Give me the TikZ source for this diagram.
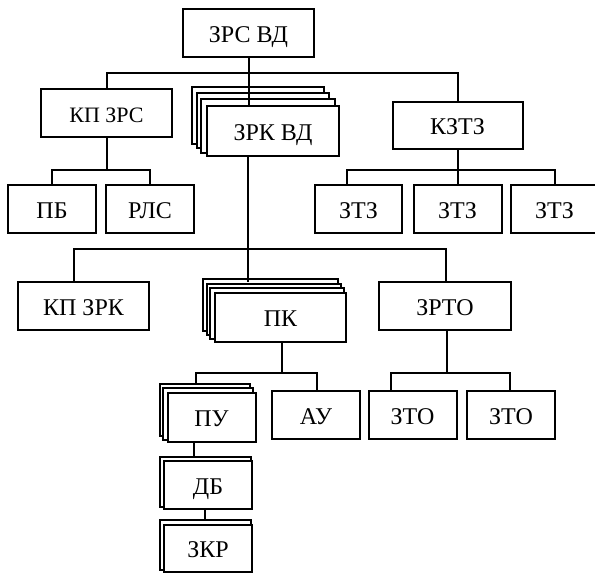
\documentclass[tikz,border=0pt]{standalone}
\usepackage{fontspec}
\setmainfont{Liberation Serif}
\usetikzlibrary{backgrounds}

\tikzset{
  unit/.style = {draw, fill = white, line width = 1pt, minimum width = 65.5pt, minimum height = 24pt,
                 inner sep = 0pt, text height = 9pt, text depth = 0pt, font = \fontsize{12}{14}\selectfont},
  small/.style = {unit, minimum width = 44pt},
  layer/.style = {draw, fill = white, line width = 1pt},
  link/.style = {line width = 1pt}
}

\begin{document}
\begin{tikzpicture}[x = 0.5pt, y = -0.5pt]
  \useasboundingbox (0,0) rectangle (595,573);

  % top level
  \node[unit] (zrs) at (248.5,33) {ЗРС ВД};
  \node[unit, font = \fontsize{11}{13}\selectfont] (kpzrs) at (106.5,113) {КП ЗРС};
  \node[unit, minimum width = 66pt, minimum height = 25pt] (zrk) at (273,131) {ЗРК ВД};
  \node[unit, minimum width = 65pt, minimum height = 23.5pt] (kztz) at (457.5,125.5) {КЗТЗ};

  \node[small] (pb) at (52,209) {ПБ};
  \node[small] (rls) at (150,209) {РЛС};
  \node[small, minimum width = 43.5pt] (ztz1) at (358.5,209) {ЗТЗ};
  \node[small] (ztz2) at (457.5,209) {ЗТЗ};
  \node[small] (ztz3) at (554.5,209) {ЗТЗ};

  % second level
  \node[unit] (kpzrk) at (83.5,306) {КП ЗРК};
  \node[unit, minimum height = 24.5pt] (pk) at (280.5,317.5) {ПК};
  \node[unit, minimum width = 66pt] (zrto) at (445,306) {ЗРТО};

  \node[small, minimum height = 24.5pt] (pu) at (211.5,417.5) {ПУ};
  \node[small] (au) at (316,415) {АУ};
  \node[small] (zto1) at (412.5,415) {ЗТО};
  \node[small] (zto2) at (511,415) {ЗТО};
  \node[small] (db) at (208,485) {ДБ};
  \node[small, minimum height = 23.5pt] (zkr) at (208,548.5) {ЗКР};

  % stacked copies
  \begin{scope}[on background layer]
    \foreach \k in {3,2,1} {
      \draw[layer] ([shift={(-4.7*\k,-6*\k)}]zrk.north west) rectangle ([shift={(-5.3*\k,-4.3*\k)}]zrk.south east);
      \draw[layer] ([shift={(-3.7*\k,-4.2*\k)}]pk.north west) rectangle ([shift={(-3.1*\k,-3.9*\k)}]pk.south east);
    }
    \foreach \k in {2,1}
      \draw[layer] ([shift={(-3.3*\k,-3.8*\k)}]pu.north west) rectangle ([shift={(-3.3*\k,-3.3*\k)}]pu.south east);
    \draw[layer] ([shift={(-3.3,-3.4)}]db.north west) rectangle ([shift={(-2.4,-3.3)}]db.south east);
    \draw[layer] ([shift={(-3.3,-4.3)}]zkr.north west) rectangle ([shift={(-2.4,-3.3)}]zkr.south east);
  \end{scope}

  % links
  \coordinate (b1) at (248.5,73);
  \coordinate (b2) at (106.5,170);
  \coordinate (b3) at (457.5,170);
  \coordinate (b4) at (248,249);
  \coordinate (b5) at (282,373);
  \coordinate (b6) at (447,373);

  \draw[link] (zrs.south) -- (zrs.south |- zrk.north);
  \draw[link] (kpzrs.north) |- (b1) -| (kztz.north);
  \draw[link] (kpzrs.south) -- (b2);
  \draw[link] (pb.north) |- (b2) -| (rls.north);
  \draw[link] (kztz.south) -- (ztz2.north);
  \draw[link] ([xshift=-5.75pt]ztz1.north) |- (b3) -| (ztz3.north);

  \draw[link] (b4 |- zrk.south) -- (b4);
  \draw[link] ([xshift=-4.75pt]kpzrk.north) |- (b4) -| ([xshift=0.5pt]zrto.north);
  \draw[link] (b4) -- (b4 |- 0,282);

  \draw[link] (b5 |- pk.south) -- (b5);
  \draw[link] ([shift={(-15.5,-7.5)}]pu.north) |- (b5) -| ([xshift=0.5pt]au.north);
  \draw[link] (b6 |- zrto.south) -- (b6);
  \draw[link] ([xshift=-10.75pt]zto1.north) |- (b6) -| ([xshift=-0.5pt]zto2.north);

  \draw[link] ([xshift=-8.75pt]pu.south) -- ([shift={(-14,-3.5)}]db.north);
  \draw[link] ([xshift=-1.5pt]db.south) -- ([shift={(-3,-4.3)}]zkr.north);
\end{tikzpicture}
\end{document}
